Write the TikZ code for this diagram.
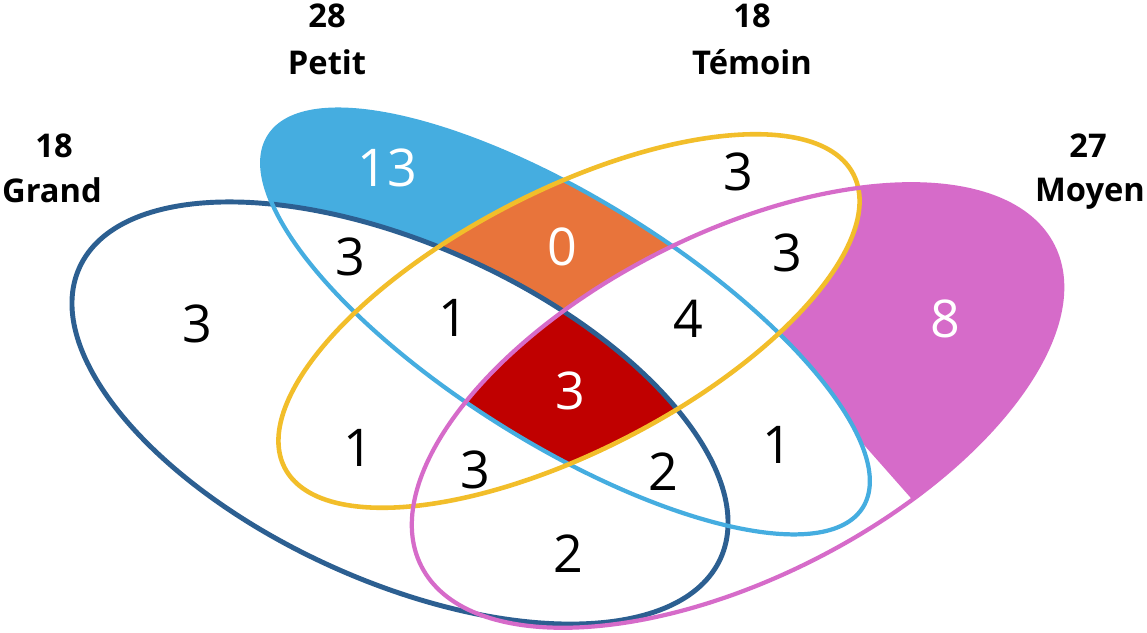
\documentclass[tikz,border=0pt]{standalone}
\usepackage{fontspec}
\setmainfont{Open Sans}
\usetikzlibrary{positioning}

\definecolor{grandcol}{HTML}{2C5F91}
\definecolor{petitcol}{HTML}{45ADE0}
\definecolor{temoincol}{HTML}{F2BE2A}
\definecolor{moyencol}{HTML}{D66BC9}
\definecolor{orangecol}{HTML}{E8743B}
\definecolor{redcol}{HTML}{C00000}

% the four sets
\newcommand{\grandset}[1]{\path[#1, rotate around={-24.4:(4.00,2.19)}] (4.00,2.19) ellipse (3.52 and 1.68);}
\newcommand{\petitset}[1]{\path[#1, rotate around={-32:(5.66,3.10)}] (5.66,3.10) ellipse (3.50 and 1.22);}
\newcommand{\temoinset}[1]{\path[#1, rotate around={27.3:(5.69,3.11)}] (5.69,3.11) ellipse (3.20 and 1.30);}
\newcommand{\moyenset}[1]{\path[#1, rotate around={26.9:(7.37,2.26)}] (7.37,2.26) ellipse (3.54 and 1.72);}

\tikzset{
    count/.style={font=\fontsize{14.8}{17}\selectfont, inner sep=0pt},
    wcount/.style={count, text=white},
    setlabel/.style={font=\bfseries\fontsize{9.3}{11}\selectfont, anchor=base, inner sep=0pt},
}

\begin{document}
\begin{tikzpicture}
    \fill[white] (0,0) rectangle (11.47,6.32);
    \useasboundingbox (0,0) rectangle (11.47,6.32);

    % Moyen only
    \begin{scope}
        \moyenset{clip}
        \clip (7.51,3.15) -- (10.69,-0.45) -- (12,-0.45) -- (12,7) -- (7.51,7) -- cycle;
        \moyenset{fill=moyencol}
        \temoinset{fill=white}
        \petitset{fill=white}
        \grandset{fill=white}
    \end{scope}
    % Petit only
    \begin{scope}
        \petitset{clip}
        \petitset{fill=petitcol}
        \grandset{fill=white}
        \temoinset{fill=white}
        \moyenset{fill=white}
    \end{scope}
    % Petit and Temoin
    \begin{scope}
        \petitset{clip}
        \temoinset{clip}
        \temoinset{fill=orangecol}
        \grandset{fill=white}
        \moyenset{fill=white}
    \end{scope}
    % all four
    \begin{scope}
        \petitset{clip}
        \temoinset{clip}
        \grandset{clip}
        \moyenset{fill=redcol}
    \end{scope}

    \grandset{draw=grandcol, line width=1.4pt}
    \petitset{draw=petitcol, line width=1.2pt}
    \temoinset{draw=temoincol, line width=1.3pt}
    \moyenset{draw=moyencol, line width=1.2pt}

    \node[wcount] (p) at (3.87,4.64) {13};
    \node[count] (t) at (7.38,4.60) {3};
    \node[wcount] (pt) at (5.62,3.85) {0};
    \node[count] (gp) at (3.50,3.75) {3};
    \node[count] (tm) at (7.87,3.79) {3};
    \node[count] (g) at (1.97,3.08) {3};
    \node[count] (gpt) at (4.53,3.14) {1};
    \node[count] (ptm) at (6.88,3.13) {4};
    \node[wcount] (m) at (9.45,3.13) {8};
    \node[wcount] (gptm) at (5.70,2.41) {3};
    \node[count] (gt) at (3.58,1.84) {1};
    \node[count] (gtm) at (4.75,1.62) {3};
    \node[count] (gpm) at (6.63,1.60) {2};
    \node[count] (pm) at (7.77,1.87) {1};
    \node[count] (gm) at (5.68,0.78) {2};

    \node[setlabel] (gnum) at (0.54,4.74) {18};
    \node[setlabel] (gname) at (0.52,4.29) {Grand};
    \node[setlabel] (pnum) at (3.27,6.04) {28};
    \node[setlabel] (pname) at (3.27,5.57) {Petit};
    \node[setlabel] (tnum) at (7.52,6.04) {18};
    \node[setlabel] (tname) at (7.52,5.57) {Témoin};
    \node[setlabel] (mnum) at (10.88,4.74) {27};
    \node[setlabel] (mname) at (10.90,4.30) {Moyen};
\end{tikzpicture}
\end{document}
